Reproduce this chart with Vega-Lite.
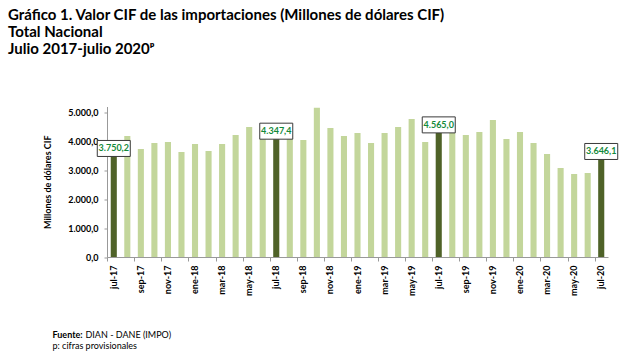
{
  "$schema": "https://vega.github.io/schema/vega-lite/v6.json",
  "width": 501,
  "height": 150.5,
  "autosize": {"type": "none"},
  "padding": {"left": 107, "top": 106.5, "right": 22, "bottom": 99},
  "background": "white",
  "config": {
    "font": "Lato",
    "view": {"stroke": null},
    "locale": {"number": {"decimal": ",", "thousands": ".", "grouping": [3], "currency": ["$", ""]}}
  },
  "title": {
    "text": ["Gráfico 1. Valor CIF de las importaciones (Millones de dólares CIF)", "Total Nacional", "Julio 2017-julio 2020ᵖ"],
    "anchor": "start",
    "frame": "group",
    "dx": -99,
    "offset": 50,
    "fontSize": 15,
    "lineHeight": 17,
    "fontWeight": "bold",
    "color": "black",
    "font": "Lato"
  },
  "data": {"values": [
    {"m": "jul-17", "v": 3750.2, "t": "h"},
    {"m": "ago-17", "v": 4181, "t": "n"},
    {"m": "sep-17", "v": 3732, "t": "n"},
    {"m": "oct-17", "v": 3939, "t": "n"},
    {"m": "nov-17", "v": 3974, "t": "n"},
    {"m": "dic-17", "v": 3628, "t": "n"},
    {"m": "ene-18", "v": 3905, "t": "n"},
    {"m": "feb-18", "v": 3663, "t": "n"},
    {"m": "mar-18", "v": 3905, "t": "n"},
    {"m": "abr-18", "v": 4216, "t": "n"},
    {"m": "may-18", "v": 4492, "t": "n"},
    {"m": "jun-18", "v": 4216, "t": "n"},
    {"m": "jul-18", "v": 4347.4, "t": "h"},
    {"m": "ago-18", "v": 4220, "t": "n"},
    {"m": "sep-18", "v": 4043, "t": "n"},
    {"m": "oct-18", "v": 5159, "t": "n"},
    {"m": "nov-18", "v": 4457, "t": "n"},
    {"m": "dic-18", "v": 4181, "t": "n"},
    {"m": "ene-19", "v": 4285, "t": "n"},
    {"m": "feb-19", "v": 3939, "t": "n"},
    {"m": "mar-19", "v": 4285, "t": "n"},
    {"m": "abr-19", "v": 4492, "t": "n"},
    {"m": "may-19", "v": 4768, "t": "n"},
    {"m": "jun-19", "v": 3974, "t": "n"},
    {"m": "jul-19", "v": 4565.0, "t": "h"},
    {"m": "ago-19", "v": 4560, "t": "n"},
    {"m": "sep-19", "v": 4216, "t": "n"},
    {"m": "oct-19", "v": 4319, "t": "n"},
    {"m": "nov-19", "v": 4734, "t": "n"},
    {"m": "dic-19", "v": 4077, "t": "n"},
    {"m": "ene-20", "v": 4319, "t": "n"},
    {"m": "feb-20", "v": 3939, "t": "n"},
    {"m": "mar-20", "v": 3559, "t": "n"},
    {"m": "abr-20", "v": 3075, "t": "n"},
    {"m": "may-20", "v": 2868, "t": "n"},
    {"m": "jun-20", "v": 2902, "t": "n"},
    {"m": "jul-20", "v": 3646.1, "t": "h"}
  ]},
  "encoding": {
    "y": {
      "field": "v", "type": "quantitative",
      "scale": {"domain": [0, 5200], "nice": false, "zero": true},
      "axis": {
        "values": [0, 1000, 2000, 3000, 4000, 5000],
        "format": ",.1f",
        "grid": false,
        "tickSize": 3,
        "tickColor": "#999999",
        "domainColor": "#999999",
        "labelFontSize": 9,
        "labelFontWeight": "bold",
        "labelColor": "black",
        "labelPadding": 6,
        "title": "Millones de dólares CIF",
        "titleFontSize": 9,
        "titleFontWeight": "bold",
        "titleColor": "black",
        "titlePadding": 15
      }
    }
  },
  "layer": [
    {
      "mark": {"type": "bar"},
      "encoding": {
        "x": {
          "field": "m", "type": "ordinal", "sort": null,
          "scale": {"domain": ["jul-17","ago-17","sep-17","oct-17","nov-17","dic-17","ene-18","feb-18","mar-18","abr-18","may-18","jun-18","jul-18","ago-18","sep-18","oct-18","nov-18","dic-18","ene-19","feb-19","mar-19","abr-19","may-19","jun-19","jul-19","ago-19","sep-19","oct-19","nov-19","dic-19","ene-20","feb-20","mar-20","abr-20","may-20","jun-20","jul-20"], "paddingInner": 0.55, "paddingOuter": 0.275},
          "axis": {
            "orient": "bottom",
            "values": ["jul-17","sep-17","nov-17","ene-18","mar-18","may-18","jul-18","sep-18","nov-18","ene-19","mar-19","may-19","jul-19","sep-19","nov-19","ene-20","mar-20","may-20","jul-20"],
            "ticks": false,
            "tickSize": 0,
            "domainColor": "#999999",
            "labelAngle": -90,
            "labelAlign": "right",
            "labelBaseline": "middle",
            "labelFontSize": 9,
            "labelFontWeight": "bold",
            "labelColor": "black",
            "labelPadding": 8,
            "title": "p: cifras provisionales",
            "titleFontSize": 9,
            "titleFontWeight": "normal",
            "titleColor": "black",
            "titleAngle": 0,
            "titleAlign": "left",
            "titleBaseline": "alphabetic",
            "titleAnchor": null,
            "titleX": -55,
            "titleY": 91
          }
        },
        "color": {"field": "t", "type": "nominal", "scale": {"domain": ["n", "h"], "range": ["#c3d69b", "#4f6228"]}, "legend": null}
      }
    },
    {
      "transform": [{"filter": "datum.t === 'h'"}],
      "mark": {"type": "point", "shape": "M-1,-0.485H1V0.485H-1Z", "size": 1089, "filled": true, "fill": "white", "stroke": "#3a3a3a", "strokeWidth": 1, "opacity": 1},
      "encoding": {
        "x": {
          "field": "m", "type": "ordinal", "sort": null,
          "scale": {"domain": ["jul-17","ago-17","sep-17","oct-17","nov-17","dic-17","ene-18","feb-18","mar-18","abr-18","may-18","jun-18","jul-18","ago-18","sep-18","oct-18","nov-18","dic-18","ene-19","feb-19","mar-19","abr-19","may-19","jun-19","jul-19","ago-19","sep-19","oct-19","nov-19","dic-19","ene-20","feb-20","mar-20","abr-20","may-20","jun-20","jul-20"]},
          "axis": {
            "orient": "bottom",
            "values": ["jul-17","sep-17","nov-17","ene-18","mar-18","may-18","jul-18","sep-18","nov-18","ene-19","mar-19","may-19","jul-19","sep-19","nov-19","ene-20","mar-20","may-20","jul-20"],
            "bandPosition": -0.5,
            "ticks": true,
            "tickSize": 4,
            "tickColor": "#999999",
            "labels": false,
            "domain": false,
            "title": "Fuente:",
            "titleFontSize": 9,
            "titleFontWeight": "bold",
            "titleColor": "black",
            "titleAngle": 0,
            "titleAlign": "left",
            "titleBaseline": "alphabetic",
            "titleAnchor": null,
            "titleX": -55,
            "titleY": 80
          }
        }
      }
    },
    {
      "transform": [{"filter": "datum.t === 'h'"}],
      "mark": {"type": "text", "fontSize": 9, "fontWeight": "bold", "color": "#138a3a", "font": "Lato"},
      "encoding": {
        "x": {
          "field": "m", "type": "ordinal", "sort": null,
          "scale": {"domain": ["jul-17","ago-17","sep-17","oct-17","nov-17","dic-17","ene-18","feb-18","mar-18","abr-18","may-18","jun-18","jul-18","ago-18","sep-18","oct-18","nov-18","dic-18","ene-19","feb-19","mar-19","abr-19","may-19","jun-19","jul-19","ago-19","sep-19","oct-19","nov-19","dic-19","ene-20","feb-20","mar-20","abr-20","may-20","jun-20","jul-20"]},
          "axis": {
            "orient": "bottom",
            "ticks": false,
            "labels": false,
            "domain": false,
            "title": "DIAN - DANE (IMPO)",
            "titleFontSize": 9,
            "titleFontWeight": "normal",
            "titleColor": "black",
            "titleAngle": 0,
            "titleAlign": "left",
            "titleBaseline": "alphabetic",
            "titleAnchor": null,
            "titleX": -22,
            "titleY": 80
          }
        },
        "text": {"field": "v", "type": "quantitative", "format": ",.1f"}
      }
    }
  ],
  "resolve": {"axis": {"x": "independent"}}
}
